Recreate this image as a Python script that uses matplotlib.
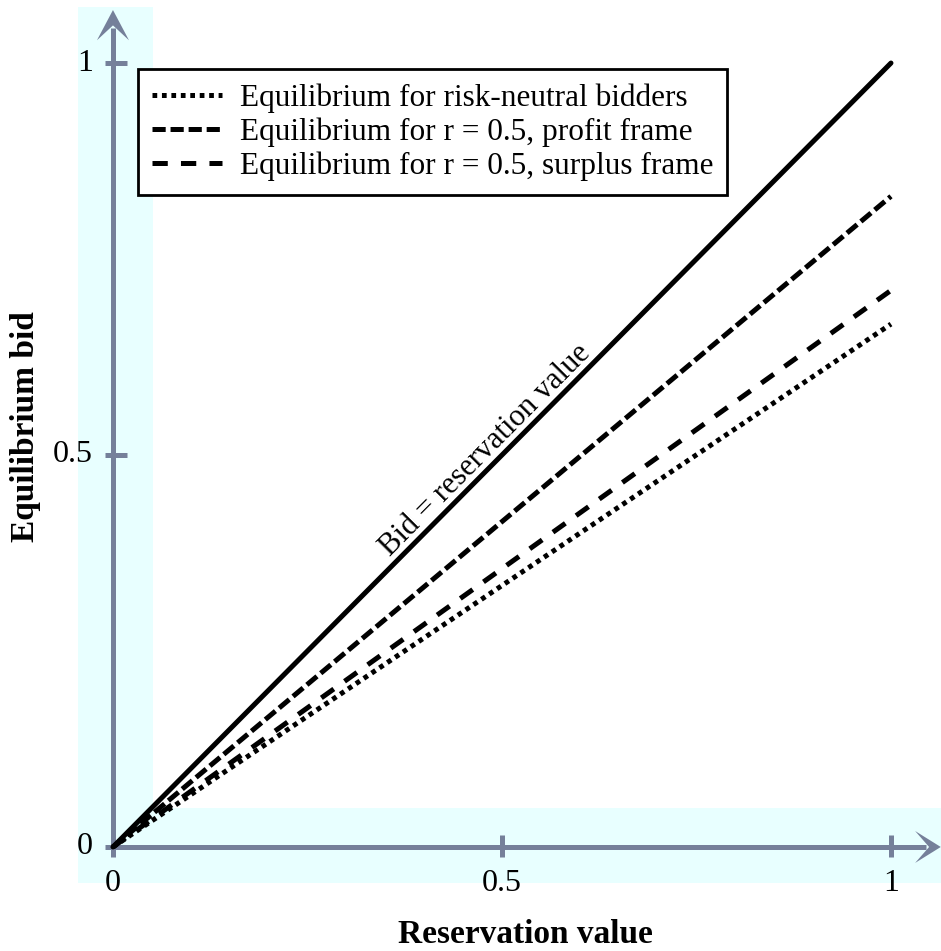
import matplotlib
matplotlib.use('Agg')
import matplotlib.pyplot as plt
from matplotlib.patches import Rectangle, Polygon

plt.rcParams['font.family'] = ['Liberation Serif', 'DejaVu Serif']
plt.rcParams['lines.scale_dashes'] = False

# Bid functions (endpoints at reservation value 0 and 1)
reservation = [0, 1]
bid_equal = [0, 1]
bid_risk_neutral = [0, 0.667]
bid_profit = [0, 0.83]
bid_surplus = [0, 0.71]

x_ticks = [0, 0.5, 1]
x_ticklabels = ['0', '0.5', '1']
y_ticks = [0, 0.5, 1]
y_ticklabels = ['0', '0.5', '1']

AXIS_COLOR = '#75809a'
BAND_COLOR = '#e8ffff'

fig = plt.figure(figsize=(9.41, 9.51), dpi=100)
ax = fig.add_axes([0, 0, 1, 1])
ax.set_axis_off()
ax.set_xlim(-0.1452, 1.0643)
ax.set_ylim(-0.1327, 1.0804)

# light bands behind the axes
ax.add_patch(Rectangle((-0.045, -0.046), 0.096, 1.117, color=BAND_COLOR, lw=0, zorder=0))
ax.add_patch(Rectangle((-0.039, -0.046), 1.103, 0.096, color=BAND_COLOR, lw=0, zorder=0))

# axis lines with arrowheads
ax.plot([0, 1.045], [0, 0], color=AXIS_COLOR, lw=3.6, solid_capstyle='butt', zorder=2)
ax.plot([0, 0], [0, 1.045], color=AXIS_COLOR, lw=3.6, solid_capstyle='butt', zorder=2)
ax.add_patch(Polygon([(1.064, 0), (1.031, 0.0204), (1.049, 0), (1.031, -0.0204)],
                     closed=True, color=AXIS_COLOR, lw=0, zorder=2))
ax.add_patch(Polygon([(0, 1.0676), (-0.0206, 1.029), (0, 1.048), (0.0206, 1.029)],
                     closed=True, color=AXIS_COLOR, lw=0, zorder=2))

# ticks and tick labels
for t, lab in zip(x_ticks, x_ticklabels):
    ax.plot([t, t], [-0.0128, 0.0153], color=AXIS_COLOR, lw=3.6, solid_capstyle='butt', zorder=2)
    ax.text(t, -0.046, lab, ha='center', va='center', fontsize=23)
for t, lab in zip(y_ticks, y_ticklabels):
    ax.plot([-0.0103, 0.018], [t, t], color=AXIS_COLOR, lw=3.6, solid_capstyle='butt', zorder=2)
    ax.text(-0.026, t, lab, ha='right', va='center', fontsize=23)

# bid lines
ax.plot(reservation, bid_equal, color='black', lw=3.6, solid_capstyle='round', zorder=3)
l_rn, = ax.plot(reservation, bid_risk_neutral, color='black', lw=3.6,
                dashes=(3.4, 3.4), zorder=3,
                label='Equilibrium for risk-neutral bidders')
l_pf, = ax.plot(reservation, bid_profit, color='black', lw=3.6,
                dashes=(9.5, 3.5), zorder=3,
                label='Equilibrium for r = 0.5, profit frame')
l_sf, = ax.plot(reservation, bid_surplus, color='black', lw=3.6,
                dashes=(11, 9.5), zorder=3,
                label='Equilibrium for r = 0.5, surplus frame')

ax.text(0.478, 0.506, 'Bid = reservation value', rotation=45.2,
        ha='center', va='center', fontsize=22, rotation_mode='anchor')

# axis titles
ax.text(0.5296, -0.1224, 'Reservation value', ha='center', va='baseline',
        fontsize=24, fontweight='bold')
ax.text(-0.1118, 0.536, 'Equilibrium bid', ha='center', va='center',
        rotation=90, fontsize=24, fontweight='bold')

leg = ax.legend(handles=[l_rn, l_pf, l_sf], loc='upper left',
                bbox_to_anchor=(0.1467, 0.9274), borderaxespad=0,
                fontsize=22.5, frameon=True, fancybox=False, framealpha=1,
                edgecolor='black', handlelength=2.25, handletextpad=0.55,
                borderpad=0.45, labelspacing=0.15)
leg.get_frame().set_linewidth(2)

fig.savefig('out.png', dpi=100, facecolor='white')
